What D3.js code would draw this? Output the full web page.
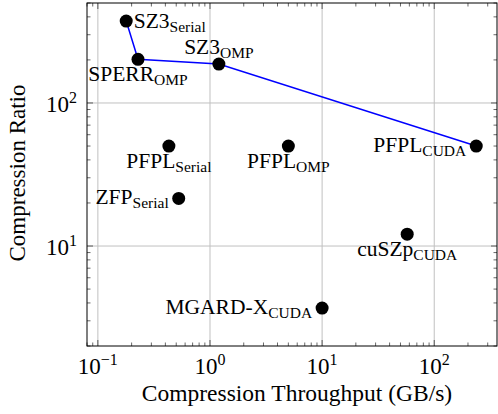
<!DOCTYPE html>
<html><head><meta charset="utf-8">
<script src="https://cdn.jsdelivr.net/npm/d3@7"></script>
<style>body{margin:0;background:#fff}svg{display:block}text{font-family:"Liberation Serif","Times New Roman",serif;fill:#000}</style>
</head><body>
<script>
// Data
const names = ["SZ3","SPERR","SZ3","PFPL","PFPL","PFPL","ZFP","cuSZp","MGARD-X"];
const subs  = ["Serial","OMP","OMP","Serial","OMP","CUDA","Serial","CUDA","CUDA"];
const throughput = [0.179, 0.228, 1.2, 0.43, 5.0, 237, 0.526, 57.4, 10.0];
const ratio      = [374, 202, 187, 50, 50, 50, 21.5, 12.1, 3.68];
const labelPos   = ["right","below","above","below","below","left","left","below","left"];
const paretoIdx  = [0, 1, 2, 5];
const xTickVals = [0.1, 1, 10, 100];
const xTickExp  = ["−1","0","1","2"];
const yTickVals = [10, 100];
const yTickExp  = ["1","2"];

const W = 498, H = 414;
const L = 87, R = 497, T = 3, B = 346;
const svg = d3.select("body").append("svg").attr("width", W).attr("height", H);
const x = d3.scaleLog().domain([0.08, 363]).range([L, R]);
const y = d3.scaleLog().domain([2, 500]).range([B, T]);

// grid
const g = svg.append("g");
g.selectAll(".gx").data(xTickVals).join("line")
  .attr("x1", d => x(d)).attr("x2", d => x(d)).attr("y1", T).attr("y2", B)
  .attr("stroke", "#c0c0c0").attr("stroke-width", 1);
g.selectAll(".gy").data(yTickVals).join("line")
  .attr("y1", d => y(d)).attr("y2", d => y(d)).attr("x1", L).attr("x2", R)
  .attr("stroke", "#c0c0c0").attr("stroke-width", 1);

// ticks
function logTicks(dom) {
  const out = [];
  for (let e = -3; e <= 4; e++) for (let m = 1; m <= 9; m++) {
    const v = m * Math.pow(10, e);
    if (v >= dom[0] * 0.999 && v <= dom[1] * 1.001) out.push({v, major: m === 1});
  }
  return out;
}
const xt = logTicks(x.domain()), yt = logTicks(y.domain());
const tk = svg.append("g").attr("stroke", "#000").attr("stroke-width", 0.6);
xt.forEach(t => {
  const len = t.major ? 6 : 3.5, px = x(t.v);
  tk.append("line").attr("x1", px).attr("x2", px).attr("y1", B).attr("y2", B - len);
  tk.append("line").attr("x1", px).attr("x2", px).attr("y1", T).attr("y2", T + len);
});
yt.forEach(t => {
  const len = t.major ? 6 : 3.5, py = y(t.v);
  tk.append("line").attr("y1", py).attr("y2", py).attr("x1", L).attr("x2", L + len);
  tk.append("line").attr("y1", py).attr("y2", py).attr("x1", R).attr("x2", R - len);
});

// frame
svg.append("rect").attr("x", L).attr("y", T).attr("width", R - L).attr("height", B - T)
  .attr("fill", "none").attr("stroke", "#000").attr("stroke-width", 1);

// tick labels
xTickVals.forEach((v, i) => {
  const t = svg.append("text").attr("x", x(v)).attr("y", 374).attr("text-anchor", "middle").attr("font-size", 23);
  t.append("tspan").text("10");
  t.append("tspan").attr("dy", -9).attr("font-size", 16).text(xTickExp[i]);
});
yTickVals.forEach((v, i) => {
  const t = svg.append("text").attr("x", 77).attr("y", y(v) + 9).attr("text-anchor", "end").attr("font-size", 23);
  t.append("tspan").text("10");
  t.append("tspan").attr("dy", -9).attr("font-size", 16).text(yTickExp[i]);
});

// axis titles
svg.append("text").attr("x", 297).attr("y", 401).attr("text-anchor", "middle")
  .attr("font-size", 23.5).text("Compression Throughput (GB/s)");
svg.append("text").attr("transform", `translate(25,173) rotate(-90)`).attr("text-anchor", "middle")
  .attr("font-size", 23).text("Compression Ratio");

// pareto line
const line = d3.line().x(i => x(throughput[i])).y(i => y(ratio[i]));
svg.append("path").attr("d", line(paretoIdx)).attr("fill", "none")
  .attr("stroke", "#0000ff").attr("stroke-width", 1.5);

// points
svg.selectAll(".pt").data(throughput).join("circle")
  .attr("cx", d => x(d)).attr("cy", (d, i) => y(ratio[i])).attr("r", 6.5).attr("fill", "#000");

// labels
throughput.forEach((d, i) => {
  const px = x(d), py = y(ratio[i]);
  let tx = px, ty = py, anchor = "middle";
  const p = labelPos[i];
  if (p === "right") { tx = px + 7.5; ty = py + 7; anchor = "start"; }
  else if (p === "left") { tx = px - 10; ty = py + 6; anchor = "end"; }
  else if (p === "below") { ty = py + 22; }
  else if (p === "above") { ty = py - 10; }
  const t = svg.append("text").attr("x", tx).attr("y", ty).attr("text-anchor", anchor).attr("font-size", 21.5);
  t.append("tspan").text(names[i]);
  t.append("tspan").attr("dy", 4).attr("font-size", 15.5).text(subs[i]);
});
</script>
</body></html>
